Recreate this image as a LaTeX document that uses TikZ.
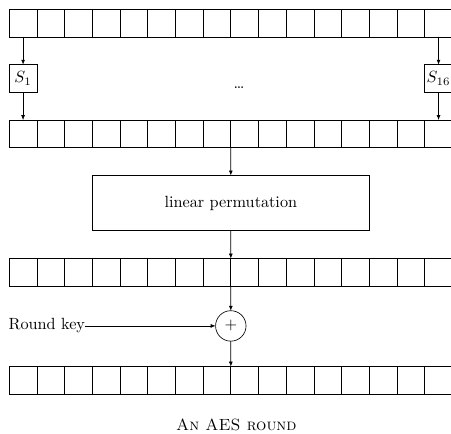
\documentclass[tikz,border=0pt]{standalone}
\usepackage{tikz}
\usetikzlibrary{shapes.geometric, arrows.meta, positioning}
\tikzstyle{cell} = [rectangle, draw, minimum size=0.6cm, inner sep=0pt, outer sep=0pt]
\tikzstyle{sbox} = [rectangle, draw, minimum size=0.6cm, inner sep=0pt, outer sep=0pt]
\tikzstyle{process} = [rectangle, draw, minimum width=6cm, minimum height=1.2cm, align=center, outer sep=0pt]
\tikzstyle{xor} = [circle, draw, minimum size=0.66cm, inner sep=0pt, outer sep=0pt]
\tikzstyle{flow} = [-{Latex[length=3pt,width=2.4pt]}]
\begin{document}
\begin{tikzpicture}
\useasboundingbox (0,0) rectangle (9.77,-9.40);

% the four 16-byte states
\foreach \i in {1,...,16} {
  \node (in\i) [cell] at (0.6*\i-0.1,-0.5) {};
  \node (sub\i) [cell] at (0.6*\i-0.1,-2.9) {};
  \node (mix\i) [cell] at (0.6*\i-0.1,-5.9) {};
  \node (out\i) [cell] at (0.6*\i-0.1,-8.24) {};
}

\node (s1) [sbox] at (0.5,-1.7) {$S_1$};
\node (s16) [sbox] at (9.5,-1.7) {$S_{16}$};
\node (dots) at (5.18,-1.9) {\dots};

\node (perm) [process] at (5,-4.4) {linear permutation};
\node (add) [xor] at (5,-7.06) {$+$};
\node (key) [anchor=west, inner sep=0pt] at (0.18,-7.06) {Round key};

\node (caption) at (5.12,-9.2) {\textsc{An AES round}};

\draw[flow] (in1) -- (s1);
\draw[flow] (s1) -- (sub1);
\draw[flow] (in16) -- (s16);
\draw[flow] (s16) -- (sub16);
\draw[flow] (sub8.south east) -- (perm);
\draw[flow] (perm) -- (mix8.north east);
\draw[flow] (mix8.south east) -- (add);
\draw[flow] (add) -- (out8.north east);
\draw[flow] (key) -- (add);
\end{tikzpicture}
\end{document}
